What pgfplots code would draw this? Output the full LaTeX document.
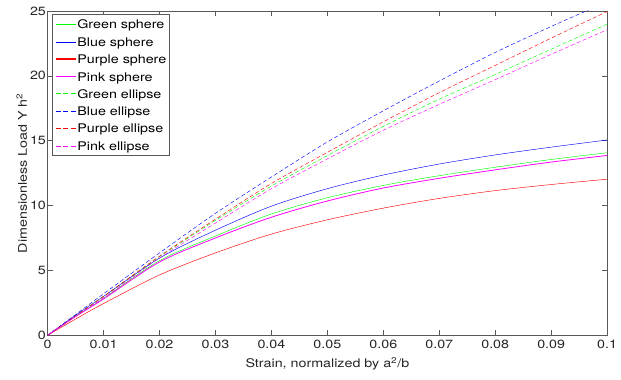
\documentclass[border=0pt]{standalone}
\usepackage{fontspec}
\setmainfont{TeX Gyre Heros}[FakeStretch=1.2]
\usepackage{pgfplots}
\pgfplotsset{compat=1.18}
\definecolor{axgray}{rgb}{0.35,0.35,0.35}
\definecolor{mgreen}{rgb}{0,1,0}
\definecolor{mblue}{rgb}{0,0,1}
\definecolor{mred}{rgb}{1,0,0}
\definecolor{mpink}{rgb}{1,0,1}
\tikzset{mdash/.style={dash pattern=on 4bp off 2.5bp}, legdash/.style={dash pattern=on 5bp off 3bp}}
\begin{document}
\fontsize{12bp}{14bp}\selectfont
\begin{tikzpicture}
\begin{axis}[
  scale only axis, width=564bp, height=327bp,
  xmin=0, xmax=0.1, ymin=0, ymax=25,
  xtick={0,0.01,0.02,0.03,0.04,0.05,0.06,0.07,0.08,0.09,0.1},
  ytick={0,5,10,15,20,25},
  scaled x ticks=false,
  xticklabel style={/pgf/number format/fixed, /pgf/number format/precision=2, inner ysep=4.5bp},
  yticklabel style={inner xsep=1.5bp},
  /pgf/number format/assume math mode=true,
  tick align=inside, major tick length=5.5bp,
  axis line style={axgray}, every tick/.style={axgray},
  tick label style={font=\fontsize{12bp}{14bp}\selectfont, text=black!85},
  label style={font=\fontsize{12bp}{14bp}\selectfont, text=black!85},
  xlabel={Strain, normalized by a\textsuperscript{2}/b},
  ylabel={Dimensionless Load Y h\textsuperscript{2}},
  xlabel style={at={([yshift=-32.7bp]axis description cs:0.5,0)}, anchor=base},
  ylabel style={at={([xshift=-21bp]axis description cs:0,0.5)}, anchor=base},
  every axis plot/.append style={line width=0.45bp, smooth},
]
% Green sphere
\addplot[color=mgreen] coordinates {(0,0) (0.005,1.45) (0.01,2.85) (0.02,5.75) (0.03,7.65) (0.04,9.35) (0.05,10.6) (0.06,11.55) (0.07,12.3) (0.08,12.95) (0.09,13.55) (0.1,14.07)};
% Blue sphere
\addplot[color=mblue] coordinates {(0,0) (0.005,1.55) (0.01,3.0) (0.02,5.95) (0.03,8.1) (0.04,9.95) (0.05,11.3) (0.06,12.35) (0.07,13.2) (0.08,13.9) (0.09,14.5) (0.1,15.05)};
% Purple sphere
\addplot[color=mred] coordinates {(0,0) (0.005,1.25) (0.01,2.45) (0.02,4.65) (0.03,6.35) (0.04,7.8) (0.05,8.9) (0.06,9.8) (0.07,10.55) (0.08,11.15) (0.09,11.62) (0.1,12.03)};
% Pink sphere
\addplot[color=mpink, line width=0.8bp] coordinates {(0,0) (0.005,1.45) (0.01,2.8) (0.02,5.65) (0.03,7.5) (0.04,9.1) (0.05,10.35) (0.06,11.35) (0.07,12.1) (0.08,12.75) (0.09,13.35) (0.1,13.86)};
% Green ellipse
\addplot[color=mgreen, mdash] coordinates {(0,0) (0.005,1.5) (0.01,3.0) (0.02,6.05) (0.03,8.85) (0.04,11.5) (0.05,13.85) (0.06,16.1) (0.07,18.2) (0.08,20.1) (0.09,22.05) (0.1,23.98)};
% Blue ellipse
\addplot[color=mblue, mdash] coordinates {(0,0) (0.005,1.6) (0.01,3.2) (0.02,6.35) (0.03,9.4) (0.04,12.2) (0.05,14.9) (0.06,17.3) (0.07,19.6) (0.08,21.8) (0.09,23.8) (0.1,25.7)};
% Purple ellipse
\addplot[color=mred, mdash] coordinates {(0,0) (0.005,1.5) (0.01,3.0) (0.02,6.1) (0.03,8.95) (0.04,11.7) (0.05,14.1) (0.06,16.45) (0.07,18.7) (0.08,20.8) (0.09,22.9) (0.1,24.95)};
% Pink ellipse
\addplot[color=mpink, mdash] coordinates {(0,0) (0.005,1.45) (0.01,2.9) (0.02,5.95) (0.03,8.65) (0.04,11.3) (0.05,13.6) (0.06,15.8) (0.07,17.8) (0.08,19.7) (0.09,21.65) (0.1,23.55)};
\end{axis}
% legend (box, keys, labels)
\begin{scope}[shift={(current axis.north west)}, x=1bp, y=1bp]
\draw[axgray, fill=white, line width=0.5bp] (5,-3) rectangle (123,-146);
\draw[mgreen, line width=1.2bp] (8,-13.5) -- (29,-13.5);
\draw[mblue, line width=1.2bp] (8,-31.5) -- (29,-31.5);
\draw[mred, line width=1.2bp] (8,-48.5) -- (29,-48.5);
\draw[mpink, line width=1.2bp] (8,-66.5) -- (29,-66.5);
\draw[mgreen, line width=1.2bp, legdash] (8,-83.5) -- (29,-83.5);
\draw[mblue, line width=1.2bp, legdash] (8,-101.5) -- (29,-101.5);
\draw[mred, line width=1.2bp, legdash] (8,-118.5) -- (29,-118.5);
\draw[mpink, line width=1.2bp, legdash] (8,-136.5) -- (29,-136.5);
\node[anchor=base west, inner sep=0pt] at (29.8,-17.9) {Green sphere};
\node[anchor=base west, inner sep=0pt] at (29.8,-35.9) {Blue sphere};
\node[anchor=base west, inner sep=0pt] at (29.8,-52.9) {Purple sphere};
\node[anchor=base west, inner sep=0pt] at (29.8,-70.9) {Pink sphere};
\node[anchor=base west, inner sep=0pt] at (29.8,-87.9) {Green ellipse};
\node[anchor=base west, inner sep=0pt] at (29.8,-105.9) {Blue ellipse};
\node[anchor=base west, inner sep=0pt] at (29.8,-122.9) {Purple ellipse};
\node[anchor=base west, inner sep=0pt] at (29.8,-140.9) {Pink ellipse};
\end{scope}
\useasboundingbox ([xshift=-48bp,yshift=-45bp]current axis.south west) rectangle ([xshift=9bp,yshift=11bp]current axis.north east);
\end{tikzpicture}
\end{document}
